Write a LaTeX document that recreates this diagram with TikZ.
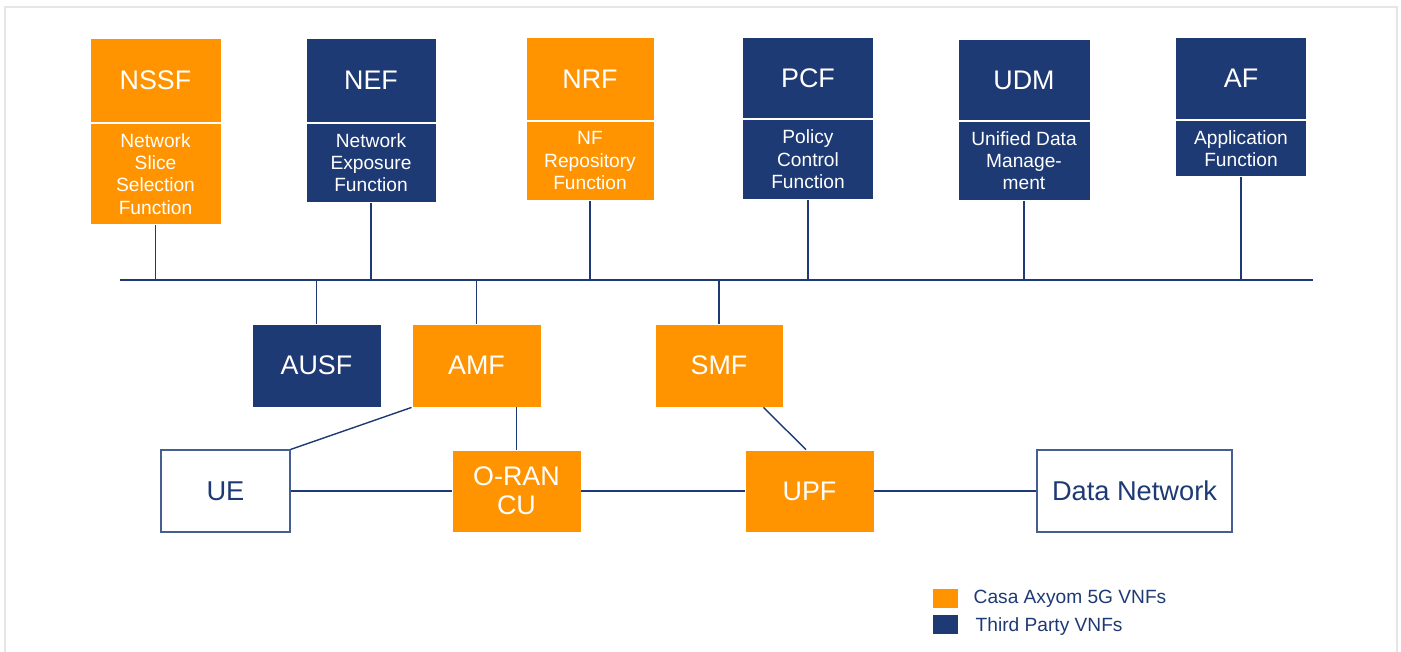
\documentclass[tikz,border=0pt]{standalone}
\usepackage{fontspec}
\setmainfont{Liberation Sans}
\usetikzlibrary{positioning}

\definecolor{casaorange}{RGB}{255,148,0}
\definecolor{navy}{RGB}{30,58,116}
\definecolor{boxedge}{RGB}{70,95,145}
\definecolor{framegray}{RGB}{230,230,230}
\newcommand{\px}{0.02cm}

\begin{document}
\begin{tikzpicture}[x=0.02cm, y=-0.02cm,
    nf/.style={inner sep=0pt, align=center, text=white, draw=white, line width=0.5pt,
      font=\fontsize{15.3}{17}\selectfont},
    casa/.style={nf, fill=casaorange},
    third/.style={nf, fill=navy},
    small/.style={font=\fontsize{10.9}{12.7}\selectfont},
    ext/.style={inner sep=0pt, draw=boxedge, fill=white, text=navy, line width=0.6pt,
      font=\fontsize{15.5}{17}\selectfont, minimum width=129*\px, minimum height=82*\px},
    key/.style={inner sep=0pt, minimum width=25*\px, minimum height=19*\px},
    link/.style={navy, line width=0.8pt}]
	\useasboundingbox (0,0) rectangle (1401,652);
	\draw[framegray, line width=1pt] (5,652) -- (5,7) -- (1397,7) -- (1397,652);

	% top row of functions
	\node[casa, minimum width=131*\px, minimum height=84*\px, anchor=north] (nssf) at (155.5,38) {NSSF};
	\node[casa, small, minimum width=131*\px, minimum height=101*\px, below=0pt of nssf] (nssfd) {Network\\Slice\\Selection\\Function};
	\node[third, minimum width=130*\px, minimum height=84*\px, anchor=north] (nef) at (371,38) {NEF};
	\node[third, small, minimum width=130*\px, minimum height=79*\px, below=0pt of nef] (nefd) {Network\\Exposure\\Function};
	\node[casa, minimum width=128*\px, minimum height=83*\px, anchor=north] (nrf) at (590,37) {NRF};
	\node[casa, small, minimum width=128*\px, minimum height=79*\px, below=0pt of nrf] (nrfd) {NF\\Repository\\Function};
	\node[third, minimum width=131*\px, minimum height=81*\px, anchor=north] (pcf) at (808,37) {PCF};
	\node[third, small, minimum width=131*\px, minimum height=80*\px, below=0pt of pcf] (pcfd) {Policy\\Control\\Function};
	\node[third, minimum width=132*\px, minimum height=81*\px, anchor=north] (udm) at (1024,39) {UDM};
	\node[third, small, minimum width=132*\px, minimum height=79*\px, below=0pt of udm] (udmd) {Unified Data\\Manage-\\ment};
	\node[third, minimum width=131*\px, minimum height=82*\px, anchor=north] (af) at (1241,37) {AF};
	\node[third, small, minimum width=131*\px, minimum height=56*\px, below=0pt of af] (afd) {Application\\Function};

	% bus
	\coordinate (busw) at (120,280);
	\coordinate (buse) at (1313,280);
	\draw[link] (busw) -- (buse);
	\foreach \n in {nssfd,nefd,nrfd,pcfd,udmd,afd}
		\draw[link] (\n.south) -- (\n.south |- busw);

	% control plane
	\node[third, minimum width=129*\px, minimum height=83*\px] (ausf) at (316.5,365.5) {AUSF};
	\node[casa, minimum width=129*\px, minimum height=83*\px] (amf) at (476.5,365.5) {AMF};
	\node[casa, minimum width=128*\px, minimum height=83*\px] (smf) at (719,365.5) {SMF};
	\foreach \n in {ausf,amf,smf}
		\draw[link] (\n.north) -- (\n.north |- busw);

	% user plane
	\node[ext] (ue) at (225.5,491) {UE};
	\node[casa, minimum width=129*\px, minimum height=82*\px, font=\fontsize{15.3}{16.5}\selectfont] (oran) at (516.5,491) {O-RAN\\CU};
	\node[casa, minimum width=129*\px, minimum height=82*\px] (upf) at (809.5,491) {UPF};
	\node[ext, minimum width=195*\px] (dn) at (1134.5,491) {Data Network};

	\draw[link] (amf.south west) -- (ue.north east);
	\draw[link] (oran.north) -- (oran.north |- amf.south);
	\draw[link] ([xshift=-0.4cm]smf.south east) -- ([xshift=-0.07cm]upf.north);
	\draw[link] (ue) -- (oran);
	\draw[link] (oran) -- (upf);
	\draw[link] (upf) -- (dn);

	% legend
	\node[key, fill=casaorange] (keycasa) at (945.5,598.5) {};
	\node[key, fill=navy] (keythird) at (945.5,624.5) {};
	\node[inner sep=0pt, text=navy, font=\fontsize{10.9}{12}\selectfont, right=0.3cm of keycasa] (txtcasa) {Casa Axyom 5G VNFs};
	\node[inner sep=0pt, text=navy, font=\fontsize{10.9}{12}\selectfont, right=0.34cm of keythird, yshift=-0.04cm] (txtthird) {Third Party VNFs};
\end{tikzpicture}
\end{document}
